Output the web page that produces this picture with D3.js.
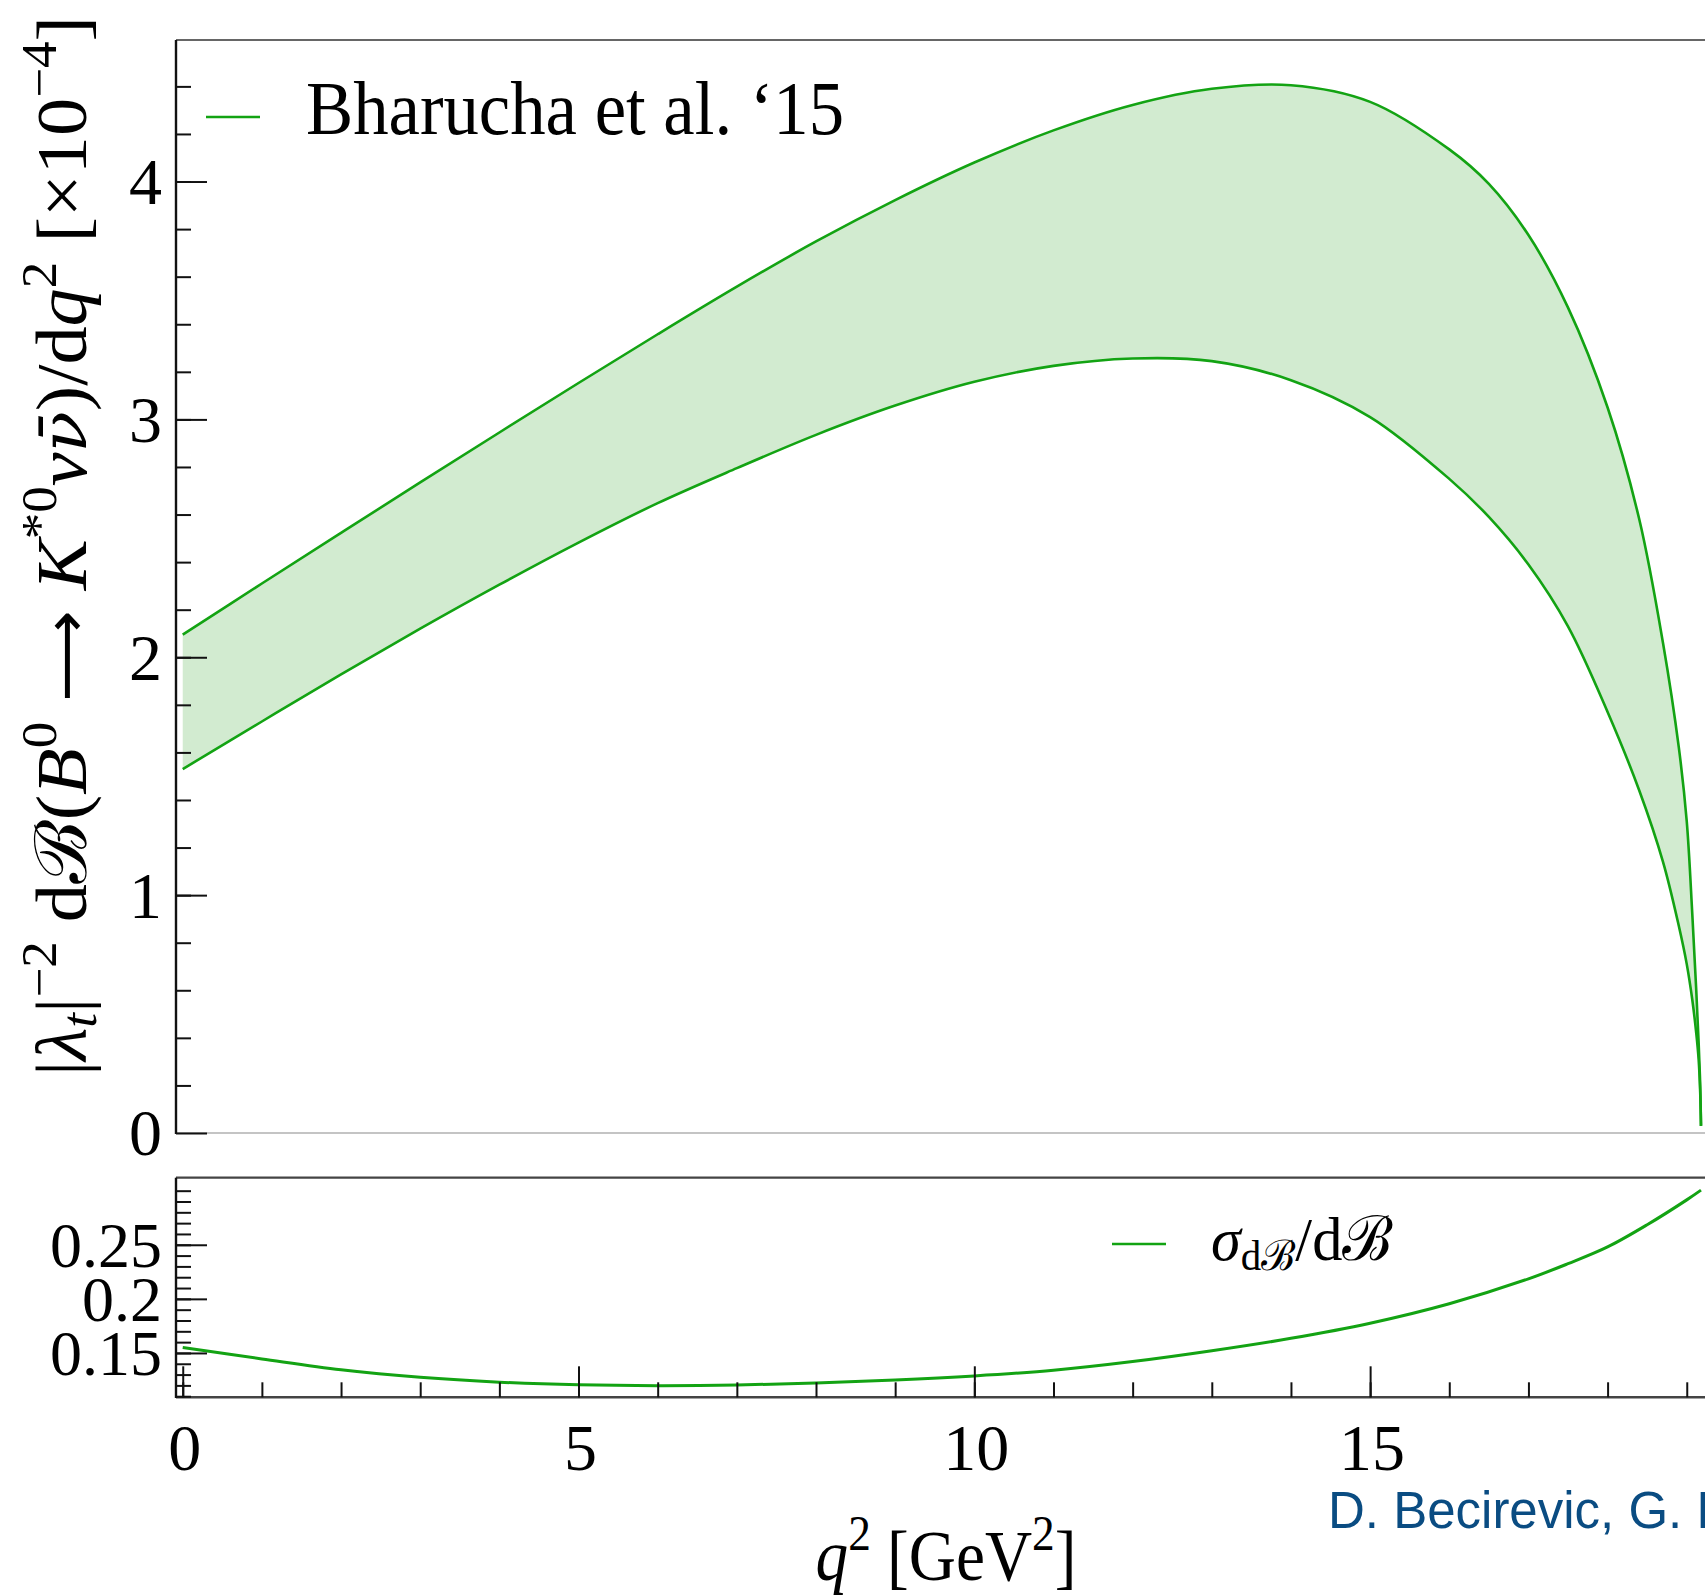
<!DOCTYPE html>
<html>
<head>
<meta charset="utf-8">
<script src="https://cdn.jsdelivr.net/npm/d3@7"></script>
<style>
  body { margin: 0; background: #fff; }
  svg text { font-family: "Liberation Serif", "DejaVu Serif", serif; fill: #000; }
</style>
</head>
<body>
<svg id="chart" width="1705" height="1596"></svg>
<script>
// band: q^2 grid and upper / lower edge of |lambda_t|^-2 dB/dq^2 [x1e-4]
var q2    = [0, 1, 2, 3, 4, 5, 6, 7, 8, 9, 10, 11, 12, 13, 14, 15, 16, 16.5, 17, 17.5, 18, 18.4, 18.7, 18.9, 19.0, 19.07, 19.12, 19.15, 19.17, 19.18];
var upper = [2.095, 2.31, 2.523, 2.735, 2.945, 3.153, 3.358, 3.558, 3.748, 3.922, 4.08, 4.215, 4.322, 4.39, 4.405, 4.335, 4.135, 3.99, 3.775, 3.47, 3.05, 2.58, 2.06, 1.62, 1.31, 0.92, 0.60, 0.38, 0.20, 0.03];
var lower = [1.53, 1.73, 1.928, 2.12, 2.305, 2.482, 2.648, 2.795, 2.935, 3.058, 3.158, 3.225, 3.256, 3.245, 3.165, 3.01, 2.75, 2.59, 2.39, 2.13, 1.77, 1.44, 1.14, 0.87, 0.71, 0.56, 0.42, 0.31, 0.17, 0.03];

// relative error sigma_dB / dB
var sigmaQ2 = [0, 1, 2, 3, 4, 5, 6, 7, 8, 9, 10, 11, 12, 13, 14, 15, 16, 17, 17.5, 18, 18.5, 19, 19.18];
var sigma   = [0.155, 0.1445, 0.1345, 0.1275, 0.123, 0.1205, 0.1197, 0.1203, 0.1222, 0.125, 0.1288, 0.134, 0.142, 0.152, 0.1635, 0.1775, 0.1955, 0.2185, 0.2325, 0.248, 0.2685, 0.2915, 0.3005];

// tick labels
var topTicks = [0, 1, 2, 3, 4];
var botTicks = [0.15, 0.2, 0.25];
var botTickLabels = ["0.15", "0.2", "0.25"];
var xTicks = [0, 5, 10, 15];

var green = "#13a313", band = "#d2ebd0";

var svg = d3.select("#chart");

// set the ranges
var left = 176;
var x = d3.scaleLinear().domain([-0.085, 19.3]).range([left, 1710.5]);
var yTop = d3.scaleLinear().domain([0, 4.595]).range([1133, 40]);
var yBot = d3.scaleLinear().domain([0.109, 0.312]).range([1397.3, 1177.7]);

var bandData = q2.map(function(q, i) { return {q: q, lo: lower[i], hi: upper[i]}; });
var sigData = sigmaQ2.map(function(q, i) { return {q: q, v: sigma[i]}; });

var curve = d3.curveCatmullRom.alpha(0.5);

// ---- top panel ----
var area = d3.area()
    .curve(curve)
    .x(function(d) { return x(d.q); })
    .y0(function(d) { return yTop(d.lo); })
    .y1(function(d) { return yTop(d.hi); });

svg.append("path").datum(bandData)
    .attr("fill", band)
    .attr("d", area);

// zero line (light grey)
svg.append("line")
    .attr("x1", left).attr("x2", 1705)
    .attr("y1", yTop(0)).attr("y2", yTop(0))
    .attr("stroke", "#c4c4c4").attr("stroke-width", 2);

["hi", "lo"].forEach(function(k) {
  svg.append("path").datum(bandData)
      .attr("fill", "none")
      .attr("stroke", green)
      .attr("stroke-width", 2.6)
      .attr("d", d3.line().curve(curve)
          .x(function(d) { return x(d.q); })
          .y(function(d) { return yTop(d[k]); }));
});

// frame
svg.append("line").attr("x1", left).attr("x2", 1705).attr("y1", 40).attr("y2", 40)
    .attr("stroke", "#666").attr("stroke-width", 2.2);
svg.append("line").attr("x1", left).attr("x2", left).attr("y1", 40).attr("y2", 1134)
    .attr("stroke", "#111").attr("stroke-width", 2.4);

function styleTicks(g) {
  g.select(".domain").remove();
  g.selectAll(".tick line").attr("stroke", "#111").attr("stroke-width", 2);
}

// y axis ticks (inward)
svg.append("g").attr("transform", "translate(" + left + ",0)")
    .call(d3.axisLeft(yTop).tickValues(d3.range(0.2, 4.5, 0.2)).tickSize(-15).tickFormat(""))
    .call(styleTicks);
svg.append("g").attr("transform", "translate(" + left + ",0)")
    .call(d3.axisLeft(yTop).tickValues(topTicks).tickSize(-31).tickFormat(""))
    .call(styleTicks);

svg.selectAll("ytoplab").data(topTicks).enter().append("text")
    .attr("x", 162)
    .attr("y", function(d) { return yTop(d); })
    .attr("dy", "0.34em")
    .attr("text-anchor", "end")
    .style("font-size", "66px")
    .text(function(d) { return d; });

// legend
svg.append("line").attr("x1", 206).attr("x2", 260).attr("y1", 117).attr("y2", 117)
    .attr("stroke", green).attr("stroke-width", 2.4);
svg.append("text")
    .attr("x", 306).attr("y", 134)
    .attr("textLength", 538).attr("lengthAdjust", "spacingAndGlyphs")
    .style("font-size", "76px")
    .text("Bharucha et al. \u201815");

// y axis label
var yl = svg.append("text")
    .attr("transform", "translate(86,546) rotate(-90)")
    .attr("text-anchor", "middle")
    .attr("textLength", 1060).attr("lengthAdjust", "spacingAndGlyphs")
    .style("font-size", "72px");
function sup(t) { yl.append("tspan").style("font-size", "50px").attr("baseline-shift", "30").text(t); }
yl.append("tspan").text("|");
yl.append("tspan").style("font-style", "italic").text("\u03bb");
yl.append("tspan").style("font-style", "italic").style("font-size", "50px").attr("baseline-shift", "-10").text("t");
yl.append("tspan").text("|");
sup("\u22122");
yl.append("tspan").text(" d\u212c(");
yl.append("tspan").style("font-style", "italic").text("B");
sup("0");
yl.append("tspan").style("font-family", "'DejaVu Sans'").style("font-size", "60px").text(" \u27f6 ");
yl.append("tspan").style("font-style", "italic").text("K");
sup("*0");
yl.append("tspan").style("font-style", "italic").text("\u03bd");
yl.append("tspan").style("font-style", "italic").style("font-family", "'DejaVu Serif'").style("font-size", "64px").text("\u03bd\u0304");
yl.append("tspan").text(")/d");
yl.append("tspan").style("font-style", "italic").text("q");
sup("2");
yl.append("tspan").text(" [\u00d710");
sup("\u22124");
yl.append("tspan").text("]");

// ---- bottom panel ----
svg.append("path").datum(sigData)
    .attr("fill", "none")
    .attr("stroke", green)
    .attr("stroke-width", 3)
    .attr("d", d3.line().curve(curve)
        .x(function(d) { return x(d.q); })
        .y(function(d) { return yBot(d.v); }));

svg.append("line").attr("x1", left).attr("x2", 1705).attr("y1", 1177.7).attr("y2", 1177.7)
    .attr("stroke", "#444").attr("stroke-width", 2.2);
svg.append("line").attr("x1", left).attr("x2", 1705).attr("y1", 1397.3).attr("y2", 1397.3)
    .attr("stroke", "#444").attr("stroke-width", 2.4);
svg.append("line").attr("x1", left).attr("x2", left).attr("y1", 1177.7).attr("y2", 1398)
    .attr("stroke", "#111").attr("stroke-width", 2.4);

svg.append("g").attr("transform", "translate(" + left + ",0)")
    .call(d3.axisLeft(yBot).tickValues(d3.range(0.11, 0.305, 0.01)).tickSize(-15).tickFormat(""))
    .call(styleTicks);
svg.append("g").attr("transform", "translate(" + left + ",0)")
    .call(d3.axisLeft(yBot).tickValues(botTicks).tickSize(-31).tickFormat(""))
    .call(styleTicks);

svg.append("g").attr("transform", "translate(0,1397.3)")
    .call(d3.axisBottom(x).tickValues(d3.range(0, 20, 1)).tickSize(-15).tickFormat(""))
    .call(styleTicks);
svg.append("g").attr("transform", "translate(0,1397.3)")
    .call(d3.axisBottom(x).tickValues(xTicks).tickSize(-31).tickFormat(""))
    .call(styleTicks);

svg.selectAll("ybotlab").data(botTicks).enter().append("text")
    .attr("x", 162)
    .attr("y", function(d) { return yBot(d); })
    .attr("dy", "0.34em")
    .attr("text-anchor", "end")
    .style("font-size", "64px")
    .text(function(d, i) { return botTickLabels[i]; });

svg.selectAll("xlab").data(xTicks).enter().append("text")
    .attr("x", function(d) { return x(d) + 2; })
    .attr("y", 1470)
    .attr("text-anchor", "middle")
    .style("font-size", "66px")
    .text(function(d) { return d; });

// legend (bottom)
svg.append("line").attr("x1", 1112).attr("x2", 1166).attr("y1", 1244).attr("y2", 1244)
    .attr("stroke", green).attr("stroke-width", 2.4);
var sl = svg.append("text")
    .attr("x", 1211).attr("y", 1260)
    .attr("textLength", 182).attr("lengthAdjust", "spacingAndGlyphs")
    .style("font-size", "62px");
sl.append("tspan").style("font-style", "italic").text("\u03c3");
sl.append("tspan").style("font-size", "42px").attr("baseline-shift", "-10").text("d\u212c");
sl.append("tspan").text("/d\u212c");

// x axis label
var xl = svg.append("text")
    .attr("x", 946).attr("y", 1580)
    .attr("text-anchor", "middle")
    .attr("textLength", 261).attr("lengthAdjust", "spacingAndGlyphs")
    .style("font-size", "72px");
xl.append("tspan").style("font-style", "italic").text("q");
xl.append("tspan").style("font-size", "50px").attr("baseline-shift", "30").text("2");
xl.append("tspan").text(" [GeV");
xl.append("tspan").style("font-size", "50px").attr("baseline-shift", "30").text("2");
xl.append("tspan").text("]");

// credit (cut at the right edge)
svg.append("text")
    .attr("x", 1328).attr("y", 1528)
    .style("font-family", "'Liberation Sans', Arial, sans-serif")
    .style("font-size", "51px")
    .style("fill", "#0a4c82")
    .text("D. Becirevic, G. Piazza");
</script>
</body>
</html>
